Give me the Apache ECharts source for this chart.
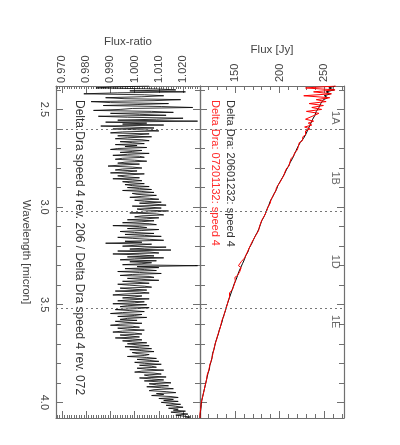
<!DOCTYPE html>
<html><head><meta charset="utf-8">
<script src="https://cdn.jsdelivr.net/npm/echarts@6/dist/echarts.min.js"></script>
<style>html,body{margin:0;padding:0;background:#fff}#c{width:400px;height:445px}</style>
</head><body><div id="c"></div>
<script>
const ratioStart = 2.38, ratioStep = 0.005;
const ratio = [
1.006,0.991,0.984,1.009,1.017,0.998,1.021,0.993,0.979,1.004,1.012,1.003,0.988,0.996,1.019,1.008,0.982,0.990,1.014,1.001,
0.987,1.011,1.024,0.999,0.994,0.983,1.007,1.016,0.990,1.002,1.013,0.985,0.997,1.020,1.009,0.993,1.026,0.988,1.005,0.995,
1.012,0.986,0.998,1.008,0.991,1.004,1.010,0.995,0.990,1.006,1.001,0.993,1.007,0.997,0.992,1.003,1.006,0.994,0.999,1.004,
0.992,1.001,0.996,1.005,0.993,0.990,1.003,0.999,0.994,1.006,0.997,0.991,1.002,1.004,0.995,0.992,1.000,1.005,0.996,0.993,
1.002,0.994,0.989,0.999,1.003,0.995,0.992,1.001,0.997,0.990,1.004,0.998,0.993,0.996,1.002,0.991,0.999,1.003,0.995,0.998,
1.004,0.996,0.999,1.006,0.997,1.002,1.007,0.995,1.003,1.008,0.999,1.001,1.009,1.003,0.998,1.006,1.010,1.000,1.004,1.011,
1.002,1.008,1.013,0.999,1.006,1.011,1.001,1.004,1.014,1.007,0.998,1.009,1.012,1.003,1.000,1.010,1.005,0.997,1.008,1.003,
0.995,1.006,1.009,0.991,1.002,1.005,0.997,1.010,1.003,0.994,1.000,1.008,0.996,1.004,1.011,0.993,0.999,1.006,1.012,0.996,
1.003,0.988,1.007,1.001,0.995,1.013,1.004,0.998,1.015,0.993,1.006,1.010,0.991,1.002,1.008,0.997,1.012,1.000,0.994,1.009,
0.998,1.007,1.003,0.995,1.026,1.001,1.010,0.996,1.004,1.009,0.993,1.002,1.011,0.999,0.994,1.006,1.008,0.997,1.003,1.010,
0.995,1.001,1.006,0.993,0.998,1.004,1.007,0.994,0.999,1.005,0.992,1.002,1.006,0.996,0.991,1.003,1.000,0.995,1.006,0.998,
0.993,1.004,1.000,0.991,1.005,0.997,0.994,1.006,1.001,0.992,0.998,1.004,0.995,0.990,1.003,1.000,0.993,1.005,0.997,0.994,
1.001,0.992,0.996,1.003,0.994,0.990,0.999,1.002,0.993,0.997,1.004,0.995,0.991,1.000,1.003,0.994,0.998,1.002,0.992,0.999,
1.003,0.995,0.999,1.005,0.997,1.001,1.006,0.996,1.002,1.007,0.998,1.003,1.008,0.999,1.001,1.006,1.004,0.997,1.005,1.009,
1.001,1.006,1.010,1.000,1.004,1.011,1.002,1.007,1.009,1.001,1.005,1.012,1.003,1.000,1.008,1.011,1.004,1.006,1.013,1.002,
1.007,1.012,1.004,1.010,1.015,1.006,1.009,1.014,1.005,1.011,1.016,1.008,1.006,1.013,1.017,1.009,1.012,1.007,1.015,1.018,
1.010,1.016,1.012,1.018,1.011,1.015,1.019,1.013,1.017,1.020,1.014,1.018,1.016,1.021,1.015,1.019,1.022,1.017,1.020,1.023,
1.021];
const fluxStart = 2.38, fluxStep = 0.01;
const fluxBlack = [
262,255,261,252,257,250,254,249,251,246,
248,244,245,241,243,239.5,240,237,238,235,
235,233,233.5,231,230.5,229,227.5,226.5,225,223,
222.5,220.5,220,218.5,217.5,216.5,215,214.5,213,212,
211.5,210,209,207.5,206.5,205.5,204,203,201.5,200.5,
199.5,198,197,196.5,195,194,192.5,192,191,189.5,
189,188,186.5,186,185,184.5,183,182.5,181.5,180,
179.5,178.5,178,177,175.5,175,174,172.5,172,170.5,
169.5,168.5,167.5,166,165.5,164.5,163.5,162,161.5,160.5,
159,158.5,157.5,156.5,155.5,154.5,154,153,152,151.5,
150.5,149.5,149,148,147,146.5,145.5,145,144,143.5,
143,142,141.5,140.5,140,139.5,138.5,138,137.5,136.5,
136,135.5,134.5,134,133.5,132.5,132,131.5,130.5,130,
129.5,128.5,128,127.5,127,126.5,125.5,125,124.5,124.5,
123.5,123.5,122.5,122,121.5,121.5,120.5,120,119.5,119,
118.5,118,117.5,117,116.5,116,115.5,115,114.5,114,
113.5,113,112.5,112.5,112,112,111.5,111.5,111,111,
111];
const fluxRed = [
263,229,262,238,258,227,256,241,252,233,
249,236,247,230,244,239,241,229,238,232,
236,228,234,229,231,229,226,227,225.5,222,
222.5,221,219,219.5,217,216,215.5,213,214,211.5,
211,210.5,208,208.5,206,205.5,204.5,202.5,202,200,
199.5,198.5,196.5,196,195.5,193.5,193,192.5,190.5,190,
189.5,187.5,187,185.5,185.5,184,183.5,183,181,181,
179,179.5,177.5,177,176.5,174.5,174,173.5,171.5,171,
169,168.5,167,166.5,165,165,163,162.5,161,160.5,
157,158.5,154,157,155,155.5,153.5,153,150,151.5,
150.5,149.5,149,147.5,147.5,146,144,144.5,144,143.5,
142.5,142,141.5,140.5,140,139.5,138.5,138,137.5,137,
135.5,135.5,134.5,134,133.5,132.5,132,131.5,130.5,130,
129.5,128.5,128,127.5,127,126,126,125,125,124,
124,123.5,122.5,122.5,121.5,121.5,120.5,120,119,119,
118.5,117.5,117.5,116.5,116.5,115.5,115.5,114.5,114.5,113.5,
113.5,113,112.5,112,112,111.5,111.5,111.5,111,111,
111];
const wlMajor = [2.5, 3.0, 3.5, 4.0];
const wlMinor = [2.4,2.5,2.6,2.7,2.8,2.9,3.0,3.1,3.2,3.3,3.4,3.5,3.6,3.7,3.8,3.9,4.0];
const ratioMajor = [0.97, 0.98, 0.99, 1.00, 1.01, 1.02];
const fluxMajor = [150, 200, 250];
const fluxMinor = [120,130,140,150,160,170,180,190,200,210,220,230,240,250,260,270];
const bandEdges = [2.60, 3.02, 3.52];
const bandNames = ['1A', '1B', '1D', '1E'];
const bandCenters = [2.543, 2.852, 3.28, 3.587];
const bandFluxPos = 262;
const legendBlack = 'Delta Dra: 20601232: speed 4';
const legendRed = 'Delta Dra: 07201132: speed 4';
const ratioNote = 'Delta Dra speed 4 rev. 206 / Delta Dra speed 4 rev. 072';

const ratioMinor = [];
for (let k = 968; k <= 1027; k++) ratioMinor.push(k / 1000);

const ratioData = ratio.map((v, i) => [v, +(ratioStart + i * ratioStep).toFixed(4)]);
const blackData = fluxBlack.map((v, i) => [v, +(fluxStart + i * fluxStep).toFixed(3)]);
const redData = fluxRed.map((v, i) => [v, +(fluxStart + i * fluxStep).toFixed(3)]);

const FONT = 'Liberation Sans';
const AXC = '#707070';
const WLMIN = 2.38, WLMAX = 4.08;
const RMIN = 0.9675, RMAX = 1.027;
const FMIN = 111, FMAX = 272;

function ax(o) {
  return Object.assign({
    type: 'value', splitLine: {show: false},
    axisLine: {show: false}, axisLabel: {show: false}, axisTick: {show: false}
  }, o);
}
function ticks(vals, len) {
  return {show: true, inside: true, length: len, customValues: vals, lineStyle: {color: AXC, width: 1}};
}
const line = {show: true, lineStyle: {color: AXC, width: 1.2}};

const xAxis = [
  ax({gridIndex: 0, position: 'top', min: RMIN, max: RMAX, axisLine: line,
      axisTick: ticks(ratioMajor, 7),
      axisLabel: {show: true, customValues: ratioMajor, rotate: -90, margin: 3, color: '#444',
        fontFamily: FONT, fontSize: 11, formatter: v => (+v).toFixed(3)},
      name: 'Flux-ratio', nameLocation: 'middle', nameGap: 38,
      nameTextStyle: {color: '#444', fontFamily: FONT, fontSize: 11.5}}),
  ax({gridIndex: 0, position: 'top', min: RMIN, max: RMAX, axisTick: ticks(ratioMinor, 3)}),
  ax({gridIndex: 0, position: 'bottom', min: RMIN, max: RMAX, axisLine: line, axisTick: ticks(ratioMajor, 7)}),
  ax({gridIndex: 0, position: 'bottom', min: RMIN, max: RMAX, axisTick: ticks(ratioMinor, 3)}),
  ax({gridIndex: 1, position: 'top', min: FMIN, max: FMAX, axisLine: line,
      axisTick: ticks(fluxMajor, 7),
      axisLabel: {show: true, customValues: fluxMajor, rotate: -90, margin: 4, color: '#444',
        fontFamily: FONT, fontSize: 11},
      name: 'Flux [Jy]', nameLocation: 'middle', nameGap: 28,
      nameTextStyle: {color: '#444', fontFamily: FONT, fontSize: 11.5}}),
  ax({gridIndex: 1, position: 'top', min: FMIN, max: FMAX, axisTick: ticks(fluxMinor, 4)}),
  ax({gridIndex: 1, position: 'bottom', min: FMIN, max: FMAX, axisLine: line, axisTick: ticks(fluxMajor, 7)}),
  ax({gridIndex: 1, position: 'bottom', min: FMIN, max: FMAX, axisTick: ticks(fluxMinor, 4)})
];
const yBase = {min: WLMIN, max: WLMAX, inverse: true};
const yAxis = [
  ax(Object.assign({gridIndex: 0, position: 'left', axisLine: line, axisTick: ticks(wlMajor, 7),
      axisLabel: {show: true, customValues: wlMajor, rotate: -90, margin: 6, color: '#444',
        fontFamily: FONT, fontSize: 11, formatter: v => (+v).toFixed(1)},
      name: 'Wavelength [micron]', nameLocation: 'middle', nameGap: 24, nameRotate: -90,
      nameTextStyle: {color: '#444', fontFamily: FONT, fontSize: 11.5}}, yBase)),
  ax(Object.assign({gridIndex: 0, position: 'left', axisTick: ticks(wlMinor, 5)}, yBase)),
  ax(Object.assign({gridIndex: 0, position: 'right', axisLine: line, axisTick: ticks(wlMajor, 7)}, yBase)),
  ax(Object.assign({gridIndex: 0, position: 'right', axisTick: ticks(wlMinor, 5)}, yBase)),
  ax(Object.assign({gridIndex: 1, position: 'left', axisLine: line, axisTick: ticks(wlMajor, 7)}, yBase)),
  ax(Object.assign({gridIndex: 1, position: 'left', axisTick: ticks(wlMinor, 5)}, yBase)),
  ax(Object.assign({gridIndex: 1, position: 'right', axisLine: line, axisTick: ticks(wlMajor, 7)}, yBase)),
  ax(Object.assign({gridIndex: 1, position: 'right', axisTick: ticks(wlMinor, 5)}, yBase))
];

const edgeLines = {
  silent: true, symbol: 'none', animation: false, label: {show: false},
  lineStyle: {color: '#777', type: [2, 3], width: 1},
  data: bandEdges.map(v => ({yAxis: v}))
};

const option = {
  animation: false,
  backgroundColor: '#fff',
  grid: [
    {left: 56, top: 86, width: 144, height: 332},
    {left: 200, top: 86, width: 144, height: 332}
  ],
  xAxis, yAxis,
  series: [
    {type: 'line', xAxisIndex: 0, yAxisIndex: 0, data: ratioData, showSymbol: false, symbol: 'none',
     lineStyle: {color: '#000', width: 0.8}, clip: true, markLine: edgeLines},
    {type: 'line', xAxisIndex: 4, yAxisIndex: 4, data: blackData, showSymbol: false, symbol: 'none',
     lineStyle: {color: '#000', width: 1}, clip: true},
    {type: 'line', xAxisIndex: 4, yAxisIndex: 4, data: redData, showSymbol: false, symbol: 'none',
     lineStyle: {color: '#ff0000', width: 1}, clip: true, markLine: edgeLines},
    {type: 'scatter', xAxisIndex: 4, yAxisIndex: 4, symbolSize: 0, silent: true,
     data: bandCenters.map((w, i) => ({value: [bandFluxPos, w], name: bandNames[i]})),
     label: {show: true, position: 'inside', rotate: -90, formatter: p => p.name,
       color: '#444', fontFamily: FONT, fontSize: 11}}
  ],
  graphic: [
    {type: 'text', x: 79, y: 100, rotation: -Math.PI / 2,
     style: {text: ratioNote, fill: '#333', font: '12px "Liberation Sans"', textAlign: 'left', textVerticalAlign: 'middle', align: 'left', verticalAlign: 'middle'}},
    {type: 'text', x: 230, y: 100, rotation: -Math.PI / 2,
     style: {text: legendBlack, fill: '#333', font: '11px "Liberation Sans"', textAlign: 'left', textVerticalAlign: 'middle', align: 'left', verticalAlign: 'middle'}},
    {type: 'text', x: 215.5, y: 100, rotation: -Math.PI / 2,
     style: {text: legendRed, fill: '#ff2a2a', font: '11px "Liberation Sans"', textAlign: 'left', textVerticalAlign: 'middle', align: 'left', verticalAlign: 'middle'}}
  ]
};
const chart = echarts.init(document.getElementById('c'), null, {renderer: 'canvas'});
chart.setOption(option);
</script>
</body></html>
